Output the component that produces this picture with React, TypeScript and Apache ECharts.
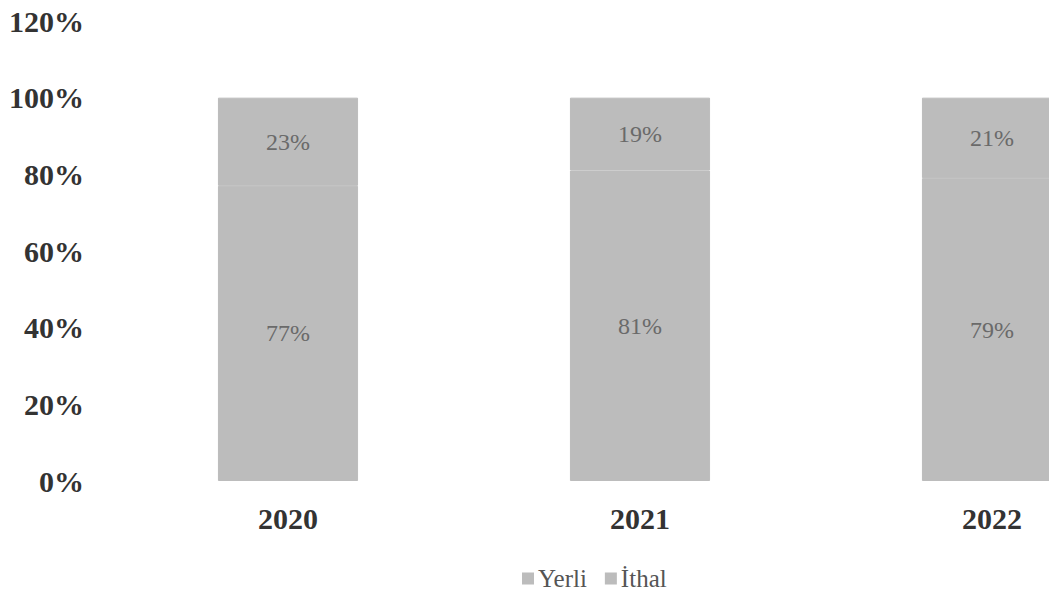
import React, { useEffect, useRef } from "react";
import * as echarts from "echarts";

const categories = ["2020", "2021", "2022"];
const yerli = [77, 81, 79];
const ithal = [23, 19, 21];
const yTicks = [0, 20, 40, 60, 80, 100, 120];

export default function App() {
  const ref = useRef<HTMLDivElement>(null);
  useEffect(() => {
    if (!ref.current) return;
    const chart = echarts.init(ref.current, null, { renderer: "svg" });
    const serif = "'Liberation Serif', 'Times New Roman', serif";
    const barColor = "#bcbcbc";
    const labelStyle = {
      show: true,
      position: "inside",
      formatter: (p: any) => p.value + "%",
      fontFamily: serif,
      fontSize: 24,
      color: "#6a6a6a",
    };
    chart.setOption({
      animation: false,
      backgroundColor: "#ffffff",
      color: [barColor, barColor],
      grid: { left: 112, width: 1056, top: 21, bottom: 116, containLabel: false },
      legend: {
        left: 517,
        top: 561,
        itemWidth: 10,
        itemHeight: 10,
        itemGap: 18,
        icon: "rect",
        textStyle: { fontFamily: serif, fontSize: 25, color: "#555555" },
        data: ["Yerli", "İthal"],
      },
      xAxis: {
        type: "category",
        data: categories,
        axisLine: { show: false },
        axisTick: { show: false },
        axisLabel: {
          margin: 22,
          fontFamily: serif,
          fontSize: 30,
          fontWeight: "bold",
          color: "#333333",
        },
      },
      yAxis: {
        type: "value",
        min: 0,
        max: 120,
        interval: 20,
        axisLine: { show: false },
        axisTick: { show: false },
        splitLine: { show: false },
        axisLabel: {
          margin: 28,
          fontFamily: serif,
          fontSize: 30,
          fontWeight: "bold",
          color: "#333333",
          formatter: (v: number) => (yTicks.includes(v) ? v + "%" : ""),
        },
      },
      series: [
        {
          name: "Yerli",
          type: "bar",
          stack: "total",
          barWidth: "39.8%",
          data: yerli,
          itemStyle: { borderColor: barColor, borderWidth: 1 },
          label: labelStyle,
        },
        {
          name: "İthal",
          type: "bar",
          stack: "total",
          barWidth: "39.8%",
          data: ithal,
          itemStyle: { borderColor: barColor, borderWidth: 1 },
          label: labelStyle,
        },
      ],
    });
    return () => chart.dispose();
  }, []);
  return (
    <div style={{ width: 1057, height: 597, margin: -8, overflow: "hidden", position: "relative" }}>
      <div ref={ref} style={{ width: 1240, height: 597 }} />
    </div>
  );
}
